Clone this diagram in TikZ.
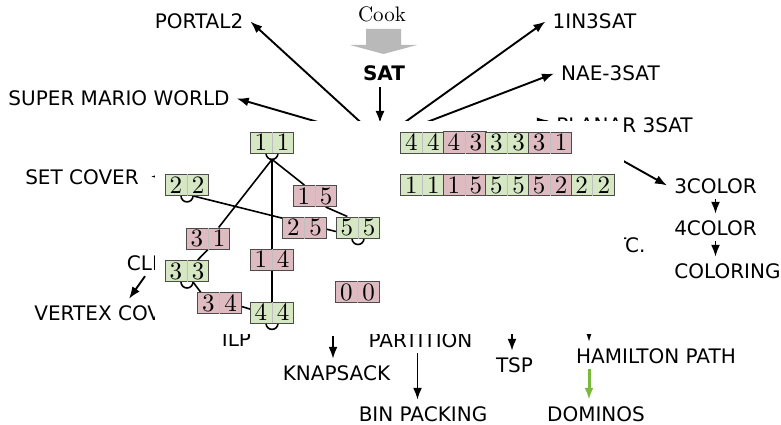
\documentclass[tikz,border=0pt]{standalone}
\usepackage{fontspec}
\setsansfont{DejaVu Sans}
\newfontfamily\tilefont{lmroman10-regular}[Extension=.otf]
\usetikzlibrary{arrows.meta,shapes.multipart}
\pgfdeclarelayer{tiles}
\pgfsetlayers{main,tiles}
\definecolor{tilegreen}{RGB}{214,231,196}
\definecolor{tilepink}{RGB}{221,187,192}
\definecolor{pathgreen}{RGB}{122,186,58}
\begin{document}
\begin{tikzpicture}[x=1pt, y=-1pt, >={Latex[length=12pt,width=9pt]},
    lbl/.style={font=\sffamily\fontsize{20}{24}\selectfont, inner xsep=7pt, inner ysep=3pt, text height=18pt, text depth=3pt},
    reduction/.style={->, line width=1.9pt},
    tile/.style={rectangle split, rectangle split horizontal, rectangle split parts=2, rectangle split draw splits=false,
        draw=black!70, line width=0.8pt, inner xsep=4.4pt, inner ysep=2pt, minimum height=21pt, font=\tilefont\fontsize{25}{25}\selectfont,
        append after command={(\tikzlastnode.north) edge[draw=black!25, line width=0.8pt] (\tikzlastnode.south)}},
    dg/.style={tile, fill=tilegreen},
    dp/.style={tile, fill=tilepink},
    domline/.style={line width=1.6pt}]
    \useasboundingbox (0,0) rectangle (781,425);
    % reduction tree
    \node (cook) [font=\tilefont\fontsize{21}{24}\selectfont] at (382,14) {Cook};
    \fill[gray!55] (366,29) -- (401,29) -- (401,45) -- (417,45) -- (383.5,54) -- (350,45) -- (366,45) -- cycle;
    \node (sat) [lbl, font=\sffamily\bfseries\fontsize{20}{24}\selectfont] at (384,73.5) {SAT};
    \node (portal2) [lbl] at (199,21.5) {PORTAL2};
    \node (smw) [lbl] at (119,98.5) {SUPER MARIO WORLD};
    \node (oneinthree) [lbl] at (594.5,21.5) {1IN3SAT};
    \node (nae) [lbl] at (610.5,73.5) {NAE-3SAT};
    \node (planar) [lbl] at (624.5,124.5) {PLANAR 3SAT};
    \node (setcover) [lbl] at (82,176.5) {SET COVER};
    \node (clique) [lbl] at (164,262.5) {CLIQUE};
    \node (vertexcover) [lbl] at (111,312.5) {VERTEX COVER};
    \node (ilp) [lbl] at (236.5,338.5) {ILP};
    \node (partition) [lbl] at (420.5,339.5) {PARTITION};
    \node (knapsack) [lbl] at (336.5,372.5) {KNAPSACK};
    \node (binpacking) [lbl] at (423,413.5) {BIN PACKING};
    \node (tsp) [lbl] at (514.5,364.5) {TSP};
    \node (hamiltonpath) [lbl] at (656,355.5) {HAMILTON PATH};
    \node (dominos) [lbl] at (596,413.5) {DOMINOS};
    \node (threecolor) [lbl] at (715.5,185.5) {3COLOR};
    \node (fourcolor) [lbl] at (715.5,227.5) {4COLOR};
    \node (coloring) [lbl] at (727.5,270.5) {COLORING};
    \node (etc) [lbl] at (623.5,244.5) {ETC.};
    \coordinate (tsat) at (380,140);
    \coordinate (scsrc) at (220,176.5);
    \coordinate (c3src) at (586,140);
    \coordinate (kssrc) at (333,336);
    \coordinate (tspsrc) at (512,300);
    \coordinate (hpsrc) at (589,300);
    \draw[reduction] (sat.south -| tsat) -- ([yshift=17pt]tsat);
    \draw[reduction] (tsat) -- (portal2.east);
    \draw[reduction] (tsat) -- (smw.east);
    \draw[reduction] (tsat) -- (oneinthree.west);
    \draw[reduction] (tsat) -- (nae.west);
    \draw[reduction] (tsat) -- ([yshift=4pt]planar.west);
    \draw[reduction] (scsrc) -- ([xshift=5pt]setcover.east);
    \draw[reduction] ([xshift=-19pt]clique.south) -- ([xshift=18pt]vertexcover.north);
    \draw[reduction] (c3src) -- (threecolor.west);
    \draw[reduction] (threecolor.south) -- (fourcolor.north);
    \draw[reduction] (fourcolor.south) -- (fourcolor.south |- coloring.north);
    \draw[reduction] (kssrc) -- (kssrc |- knapsack.north);
    \draw[reduction] ([xshift=-3pt]partition.south) -- ([xshift=-3pt]partition.south |- binpacking.north);
    \draw[reduction] (tspsrc) -- (tspsrc |- tsp.north);
    \draw[reduction] (hpsrc) -- (hpsrc |- hamiltonpath.north);
    \draw[reduction, draw=pathgreen, line width=3pt] (hpsrc |- hamiltonpath.south) -- (hpsrc |- dominos.north);
    % panel over the middle of the tree
    \fill[white] (155,121) rectangle (624,334);
    % dominoes
    \begin{pgfonlayer}{tiles}
    \node (d11) [dg] at (272,142.5) {1\nodepart{two}1};
    \node (d22) [dg] at (187,185) {2\nodepart{two}2};
    \node (d15) [dp] at (315,196) {1\nodepart{two}5};
    \node (d25) [dp] at (304.5,227.5) {2\nodepart{two}5};
    \node (d55) [dg] at (358,227.5) {5\nodepart{two}5};
    \node (d31) [dp] at (208,238.5) {3\nodepart{two}1};
    \node (d14) [dp] at (272,259.5) {1\nodepart{two}4};
    \node (d33) [dg] at (187,271) {3\nodepart{two}3};
    \node (d34) [dp] at (219.5,303) {3\nodepart{two}4};
    \node (d44) [dg] at (272,312.5) {4\nodepart{two}4};
    \node (d00) [dp] at (357.5,292) {0\nodepart{two}0};
    \foreach \a/\b/\c [count=\i from 0] in {4/4/dg, 4/3/dp, 3/3/dg, 3/1/dp}
        \node (ra\i) [\c] at (422.3+42.6*\i,142.5) {\a\nodepart{two}\b};
    \foreach \a/\b/\c [count=\i from 0] in {1/1/dg, 1/5/dp, 5/5/dg, 5/2/dp, 2/2/dg}
        \node (rb\i) [\c] at (422.3+42.6*\i,185) {\a\nodepart{two}\b};
    \end{pgfonlayer}
    % lines between dominoes
    \foreach \t in {d11,d22,d33,d44,d55}
        \draw[domline] ([xshift=-6pt]\t.south) arc[start angle=180, end angle=360, radius=6pt];
    \draw[domline] ([yshift=-6pt]d11.south) -- ([xshift=10.65pt]d31.north);
    \draw[domline] ([yshift=-6pt]d11.south) -- (d14.north);
    \draw[domline] ([yshift=-6pt]d11.south) -- ([xshift=-10.65pt]d15.north);
    \draw[domline] ([xshift=10.65pt]d15.south) -- ([xshift=-10.65pt]d55.north);
    \draw[domline] ([xshift=6pt]d22.south) -- ([yshift=-4pt]d55.west);
    \draw[domline] (d31.south) -- ([xshift=10.65pt]d33.north);
    \draw[domline] ([xshift=6pt]d33.south) -- ([xshift=-10.65pt]d34.center);
    \draw[domline] ([xshift=10.65pt]d34.center) -- ([xshift=-10.65pt]d44.center);
    \draw[domline] (d14.south) -- (d44.north);
\end{tikzpicture}
\end{document}
